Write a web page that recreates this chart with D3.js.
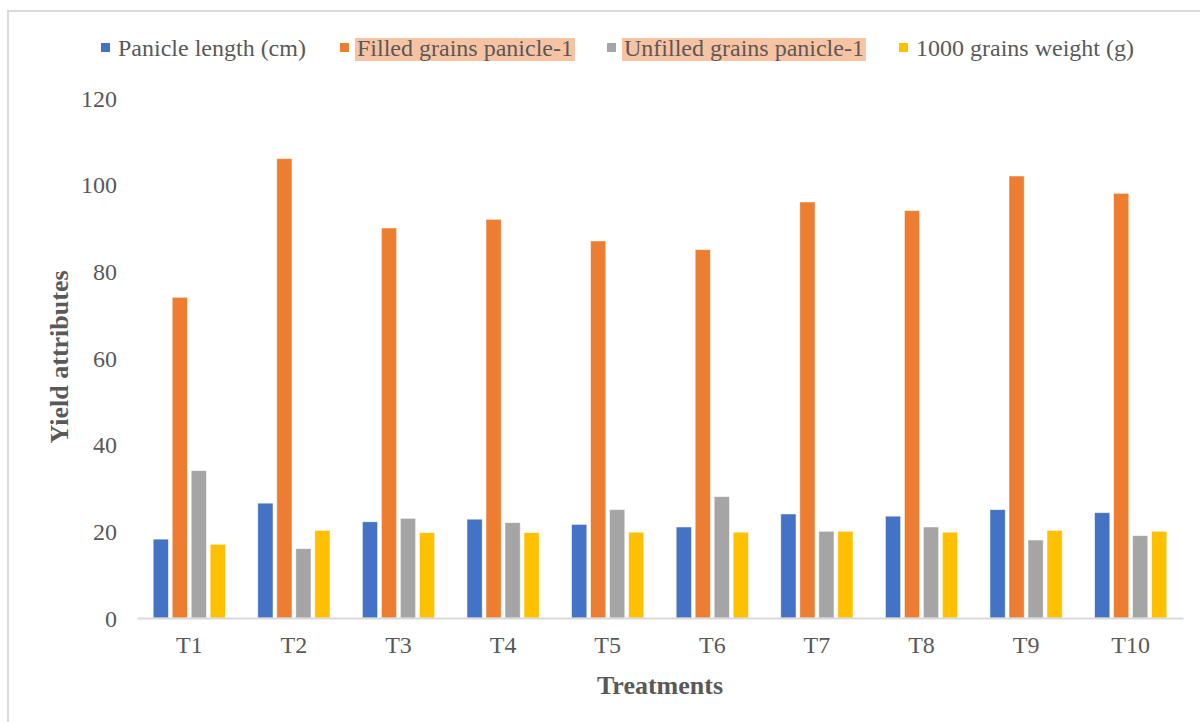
<!DOCTYPE html>
<html>
<head>
<meta charset="utf-8">
<script src="https://cdn.jsdelivr.net/npm/d3@7"></script>
<style>
  html, body { margin: 0; padding: 0; background: #fff; }
  svg { display: block; }
  text { font-family: "Liberation Serif", "Times New Roman", serif; }
</style>
</head>
<body>
<svg id="chart" width="1200" height="722"></svg>
<script>
// ---- data ----
const categories = ["T1","T2","T3","T4","T5","T6","T7","T8","T9","T10"];
const seriesNames = ["Panicle length (cm)", "Filled grains panicle-1", "Unfilled grains panicle-1", "1000 grains weight (g)"];
const panicleLength = [18.2, 26.5, 22.2, 22.8, 21.6, 21.0, 24.0, 23.5, 25.0, 24.3];
const filledGrains  = [74, 106, 90, 92, 87, 85, 96, 94, 102, 98];
const unfilledGrains = [34, 16, 23, 22, 25, 28, 20, 21, 18, 19];
const grainWeight   = [17.0, 20.2, 19.7, 19.7, 19.8, 19.8, 20.0, 19.8, 20.2, 20.0];
const yTicks = [0, 20, 40, 60, 80, 100, 120];
const colors = ["#4472C4", "#ED7D31", "#A5A5A5", "#FFC000"];
const seriesValues = [panicleLength, filledGrains, unfilledGrains, grainWeight];

// ---- layout ----
const svg = d3.select("#chart");
const plotLeft = 137, plotRight = 1183, plotTop = 98, plotBottom = 618;
const textColor = "#595959";

// chart frame (only left/top edges visible)
svg.append("rect").attr("x", 8).attr("y", 11).attr("width", 1300).attr("height", 800)
  .attr("fill", "none").attr("stroke", "#d9d9d9").attr("stroke-width", 2);

const x0 = d3.scaleBand().domain(categories).range([plotLeft, plotRight]).paddingInner(0).paddingOuter(0);
const x1 = d3.scaleBand().domain(d3.range(seriesNames.length)).range([0, x0.bandwidth()])
  .paddingInner(0.2).paddingOuter(0.853);
const y = d3.scaleLinear().domain([0, 120]).range([plotBottom, plotTop]);

// bars
const groups = svg.append("g").selectAll("g").data(categories).join("g")
  .attr("transform", d => `translate(${x0(d)},0)`);
groups.selectAll("rect").data((c, i) => seriesValues.map((s, k) => ({k, v: s[i]}))).join("rect")
  .attr("x", d => x1(d.k))
  .attr("width", x1.bandwidth())
  .attr("y", d => y(d.v))
  .attr("height", d => y(0) - y(d.v))
  .attr("fill", d => colors[d.k])
  .attr("stroke", "#ffffff").attr("stroke-opacity", 0.6).attr("stroke-width", 0.8);

// x axis
const xAxis = svg.append("g").attr("transform", `translate(0,${plotBottom})`)
  .call(d3.axisBottom(x0).tickSize(0).tickPadding(0));
xAxis.select(".domain").attr("stroke", "#d9d9d9").attr("stroke-width", 2);
xAxis.selectAll("text").attr("fill", textColor).attr("font-size", 24)
  .attr("font-family", "Liberation Serif").attr("dy", "1.45em");

// y axis
const yAxis = svg.append("g").attr("transform", `translate(${plotLeft - 20},0)`)
  .call(d3.axisLeft(y).tickValues(yTicks).tickSize(0).tickPadding(0));
yAxis.select(".domain").remove();
yAxis.selectAll("text").attr("fill", textColor).attr("font-size", 24)
  .attr("font-family", "Liberation Serif").attr("dy", "0.34em");

// axis titles
svg.append("text").attr("transform", "translate(68,357) rotate(-90)")
  .attr("text-anchor", "middle").attr("font-size", 26).attr("font-weight", "bold")
  .attr("fill", textColor).text("Yield attributes");
svg.append("text").attr("x", 660).attr("y", 694)
  .attr("text-anchor", "middle").attr("font-size", 26).attr("font-weight", "bold")
  .attr("fill", textColor).text("Treatments");

// legend
const legendX = [101, 340, 607, 899];
const highlighted = [false, true, true, false];
const legend = svg.append("g");
seriesNames.forEach((name, i) => {
  const g = legend.append("g").attr("transform", `translate(${legendX[i]},0)`);
  const t = g.append("text").attr("x", 17).attr("y", 56).attr("font-size", 24)
    .attr("fill", textColor).text(name);
  if (highlighted[i]) {
    const w = t.node().getComputedTextLength();
    g.insert("rect", "text").attr("x", 15).attr("y", 38).attr("width", w + 4).attr("height", 23)
      .attr("fill", "#F8C3A2");
  }
  g.append("rect").attr("x", 0).attr("y", 43).attr("width", 9).attr("height", 9).attr("fill", colors[i]);
});
</script>
</body>
</html>
